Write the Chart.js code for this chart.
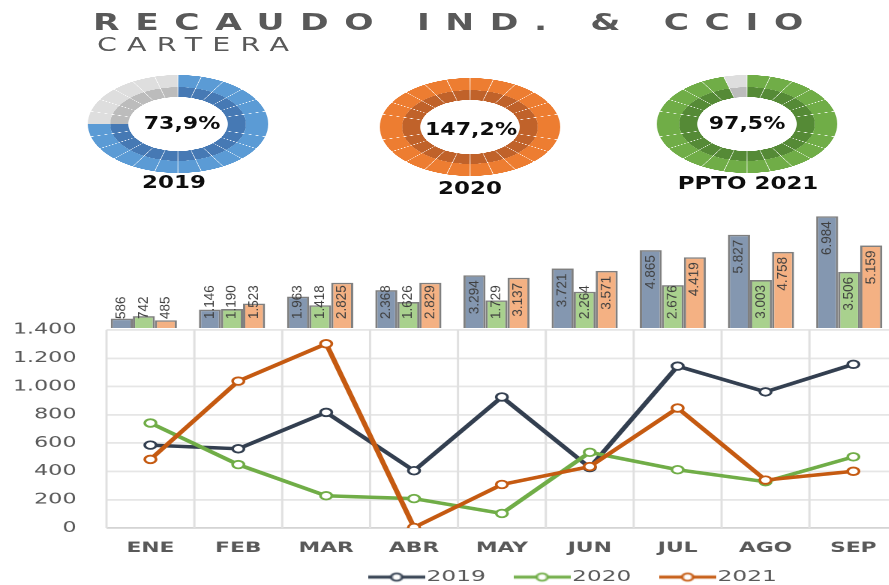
<!DOCTYPE html>
<html>
<head>
<meta charset="utf-8">
<title>Recaudo Ind. &amp; Ccio - Cartera</title>
<script src="https://cdn.jsdelivr.net/npm/chart.js@4.4.1/dist/chart.umd.min.js"></script>
<style>
  html, body { margin: 0; padding: 0; background: #fff; }
  #page { position: relative; width: 889px; height: 585px; overflow: hidden; font-family: "DejaVu Sans", sans-serif; }
  #mainWrap { position: absolute; left: 0; top: 0; width: 604px; height: 585px; transform: scaleX(1.5); transform-origin: 0 0; }
  #barCanvas { position: absolute; left: 0; top: 200px; }
  #lineCanvas { position: absolute; left: 0; top: 301px; }
  .title { position: absolute; left: 93px; top: 11px; font-size: 23px; line-height: 23px; font-weight: bold; color: #595959;
           letter-spacing: 10.4px; white-space: nowrap; transform: scaleX(1.5); transform-origin: 0 0; }
  .subtitle { position: absolute; left: 97px; top: 35px; font-size: 19px; line-height: 19px; color: #595959;
              letter-spacing: 6.8px; white-space: nowrap; transform: scaleX(1.5); transform-origin: 0 0; }
  .gauge { position: absolute; width: 98px; height: 98px; transform: scaleX(1.84); }
  .gtext { position: absolute; width: 200px; text-align: center; font-weight: bold; font-size: 17px; line-height: 17px;
           color: #0d0d0d; white-space: nowrap; }
</style>
</head>
<body>
<div id="page">
  <div id="mainWrap">
    <canvas id="barCanvas" width="604" height="130"></canvas>
    <canvas id="lineCanvas" width="604" height="284"></canvas>
  </div>
  <div class="title">RECAUDO IND. &amp; CCIO</div>
  <div class="subtitle">CARTERA</div>
</div>
<script>
var months = ['ENE', 'FEB', 'MAR', 'ABR', 'MAY', 'JUN', 'JUL', 'AGO', 'SEP'];
var years = ['2019', '2020', '2021'];

// acumulado (barras)
var acum2019 = [586, 1146, 1963, 2368, 3294, 3721, 4865, 5827, 6984];
var acum2020 = [742, 1190, 1418, 1626, 1729, 2264, 2676, 3003, 3506];
var acum2021 = [485, 1523, 2825, 2829, 3137, 3571, 4419, 4758, 5159];

// recaudo mensual (lineas)
var mes2019 = [586, 560, 817, 405, 926, 427, 1144, 962, 1157];
var mes2020 = [742, 448, 228, 208, 103, 535, 412, 327, 503];
var mes2021 = [485, 1038, 1302, 4, 308, 434, 848, 339, 401];

// indicadores
var gaugeNames = ['2019', '2020', 'PPTO 2021'];
var gaugePct = [73.9, 147.2, 97.5];
var gaugeSegments = 24;

var STRETCH = 1.5;
var barShift = -4.5;
var axisWidth = 63;
var barColors = ['#8497b0', '#a9d18e', '#f4b183'];
var lineColors = ['#333f50', '#70ad47', '#c55a11'];

function fmt(v) {
  return String(v).replace(/\B(?=(\d{3})+(?!\d))/g, '.');
}

// ---- gauges ----
var gaugeLayout = [
  {cx: 178, cy: 124, tx: 182, ty: 123, lx: 174, ly: 182, colors: ['#5b9bd5', '#4679b4']},
  {cx: 470, cy: 127, tx: 471, ty: 129, lx: 470, ly: 188, colors: ['#ed7d31', '#c0622a']},
  {cx: 747, cy: 124, tx: 747, ty: 123, lx: 748, ly: 183, colors: ['#70ad47', '#558a36']}
];
var page = document.getElementById('page');

gaugePct.forEach(function(pct, k) {
  var g = gaugeLayout[k];
  var wrap = document.createElement('div');
  wrap.className = 'gauge';
  wrap.style.left = (g.cx - 49) + 'px';
  wrap.style.top = (g.cy - 49) + 'px';
  var cv = document.createElement('canvas');
  cv.width = 98; cv.height = 98;
  wrap.appendChild(cv);
  page.appendChild(wrap);

  var filled = Math.min(gaugeSegments, Math.round(pct / 100 * gaugeSegments));
  var seg = [], outer = [], inner = [];
  for (var i = 0; i < gaugeSegments; i++) {
    seg.push(1);
    outer.push(i < filled ? g.colors[0] : '#dedede');
    inner.push(i < filled ? g.colors[1] : '#bcbcbc');
  }
  new Chart(cv, {
    type: 'doughnut',
    data: {
      labels: seg.map(function() { return ''; }),
      datasets: [
        {data: seg, backgroundColor: outer, borderWidth: 0, spacing: 2.4, weight: 1.23},
        {data: seg, backgroundColor: inner, borderWidth: 0, spacing: 2.4, weight: 1}
      ]
    },
    options: {
      responsive: false,
      devicePixelRatio: 3,
      animation: false,
      events: [],
      cutout: '54%',
      plugins: {legend: {display: false}, tooltip: {enabled: false}}
    }
  });

  var val = document.createElement('div');
  val.className = 'gtext';
  val.textContent = pct.toFixed(1).replace('.', ',') + '%';
  val.style.left = (g.tx - 100) + 'px';
  val.style.top = (g.ty - 8) + 'px';
  val.style.transform = 'scaleX(1.3)';
  page.appendChild(val);

  var lab = document.createElement('div');
  lab.className = 'gtext';
  lab.textContent = gaugeNames[k];
  lab.style.left = (g.lx - 100) + 'px';
  lab.style.top = (g.ly - 8) + 'px';
  lab.style.transform = 'scaleX(1.35)';
  page.appendChild(lab);
});

// ---- acumulado: bars ----
var barOffset = {
  id: 'barOffset',
  beforeDatasetsDraw: function(chart) { chart.ctx.save(); chart.ctx.translate(barShift, 0); },
  afterDatasetsDraw: function(chart) { chart.ctx.restore(); }
};

var barValues = {
  id: 'barValues',
  afterDatasetsDraw: function(chart) {
    var ctx = chart.ctx;
    ctx.save();
    ctx.font = '13.5px "Liberation Sans"';
    ctx.fillStyle = '#404040';
    ctx.textAlign = 'left';
    ctx.textBaseline = 'middle';
    chart.data.datasets.forEach(function(ds, i) {
      chart.getDatasetMeta(i).data.forEach(function(bar, j) {
        var txt = fmt(ds.data[j]);
        var w = ctx.measureText(txt).width;
        var bottom = Math.min(bar.y + 5 + w, bar.base - 9);
        ctx.save();
        ctx.translate(bar.x + barShift, bottom);
        ctx.scale(1 / STRETCH, 1);
        ctx.rotate(-Math.PI / 2);
        ctx.fillText(txt, 0, 0);
        ctx.restore();
      });
    });
    ctx.restore();
  }
};

function barSet(label, data, k) {
  return {label: label, data: data, backgroundColor: barColors[k], borderColor: '#7f7f7f', borderWidth: 1.5,
          categoryPercentage: 0.75, barPercentage: 1};
}

new Chart(document.getElementById('barCanvas'), {
  type: 'bar',
  data: {
    labels: months,
    datasets: [barSet(years[0], acum2019, 0), barSet(years[1], acum2020, 1), barSet(years[2], acum2021, 2)]
  },
  options: {
    responsive: false,
    devicePixelRatio: 2,
    animation: false,
    events: [],
    layout: {padding: {top: 0, left: 8 + axisWidth, right: 4, bottom: 2}},
    scales: {
      x: {display: false},
      y: {display: false, min: 0, max: 8000}
    },
    plugins: {legend: {display: false}, tooltip: {enabled: false}}
  },
  plugins: [barOffset, barValues]
});

// ---- mensual: lines ----
function legendMarker(color) {
  var c = document.createElement('canvas');
  c.width = 38; c.height = 12;
  var g = c.getContext('2d');
  g.strokeStyle = color;
  g.lineWidth = 3;
  g.beginPath(); g.moveTo(0, 6); g.lineTo(38, 6); g.stroke();
  g.fillStyle = '#fff';
  g.lineWidth = 1.8;
  g.beginPath(); g.arc(19, 6, 3.6, 0, Math.PI * 2); g.fill(); g.stroke();
  return c;
}

var columnLines = {
  id: 'columnLines',
  beforeDatasetsDraw: function(chart) {
    var x = chart.scales.x, y = chart.scales.y, ctx = chart.ctx;
    var n = x.ticks.length, step = (x.right - x.left) / n;
    ctx.save();
    ctx.strokeStyle = '#e0e0e0';
    ctx.lineWidth = 1.5;
    for (var i = 0; i <= n; i++) {
      var px = x.left + i * step;
      ctx.beginPath(); ctx.moveTo(px, y.top); ctx.lineTo(px, y.bottom); ctx.stroke();
    }
    ctx.restore();
  }
};

var legendNudge = {
  id: 'legendNudge',
  afterLayout: function(chart) {
    var l = chart.legend;
    l.left += 81; l.right += 81;
    l.top -= 12.7; l.bottom = l.top + 60;
  }
};

function lineSet(label, data, k) {
  return {label: label, data: data, order: 3 - k,
          borderColor: lineColors[k], borderWidth: 3.5, tension: 0,
          pointRadius: 3.8, pointBorderWidth: 1.8, pointBackgroundColor: '#fff', pointBorderColor: lineColors[k]};
}

new Chart(document.getElementById('lineCanvas'), {
  type: 'line',
  data: {
    labels: months,
    datasets: [lineSet(years[0], mes2019, 0), lineSet(years[1], mes2020, 1), lineSet(years[2], mes2021, 2)]
  },
  options: {
    responsive: false,
    devicePixelRatio: 2,
    animation: false,
    events: [],
    layout: {padding: {top: 10, left: 8, right: 4, bottom: 0}},
    scales: {
      x: {
        offset: true,
        grid: {display: false, drawTicks: false},
        border: {display: false},
        ticks: {color: '#595959', padding: 11.3, font: {family: 'DejaVu Sans', size: 14.5, weight: 'bold'}},
        afterFit: function(s) { s.height = 28.7; }
      },
      y: {
        min: 0, max: 1400,
        grid: {drawTicks: false, lineWidth: 1.8, color: function(c) { return c.tick.value === 0 ? '#d4d4d4' : '#e6e6e6'; }},
        border: {display: false},
        ticks: {stepSize: 200, autoSkip: false, padding: 20, color: '#595959', font: {family: 'DejaVu Sans', size: 14.8},
                callback: function(v) { return fmt(v); }},
        afterFit: function(s) { s.width = axisWidth; }
      }
    },
    plugins: {
      tooltip: {enabled: false},
      legend: {
        position: 'bottom',
        maxHeight: 28.3,
        labels: {
          usePointStyle: true,
          pointStyleWidth: 24.5,
          padding: 25.3,
          color: '#595959',
          font: {family: 'DejaVu Sans', size: 15.5},
          generateLabels: function(chart) {
            return chart.data.datasets.map(function(ds, i) {
              return {text: ds.label, pointStyle: legendMarker(ds.borderColor), fillStyle: 'rgba(0,0,0,0)',
                      strokeStyle: 'rgba(0,0,0,0)', lineWidth: 0, fontColor: '#595959', hidden: false, datasetIndex: i};
            });
          }
        }
      }
    }
  },
  plugins: [columnLines, legendNudge]
});
</script>
</body>
</html>
